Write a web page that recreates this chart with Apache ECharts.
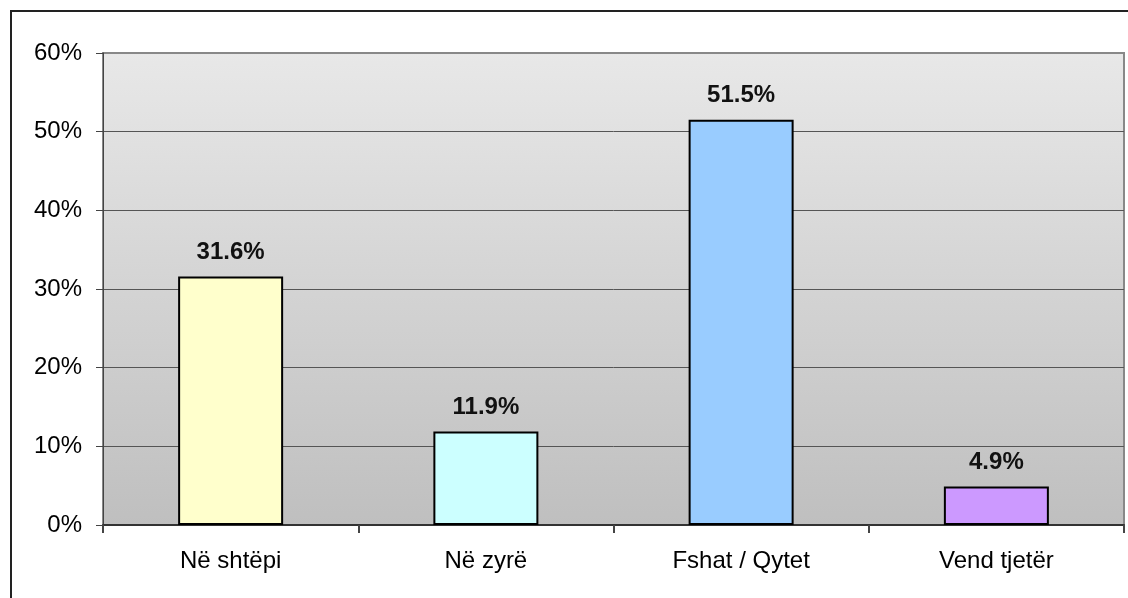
<!DOCTYPE html>
<html>
<head>
<meta charset="utf-8">
<script src="https://cdn.jsdelivr.net/npm/echarts@6/dist/echarts.min.js"></script>
<style>
  html, body { margin: 0; padding: 0; background: #fff; }
  #main { width: 1128px; height: 598px; }
</style>
</head>
<body>
<div id="main"></div>
<script>
// categories + values (percent)
const categories = ['Në shtëpi', 'Në zyrë', 'Fshat / Qytet', 'Vend tjetër']
const values = [31.6, 11.9, 51.5, 4.9]
const barColors = ['#ffffcc', '#ccffff', '#99ccff', '#cc99ff']
const yTicks = [0, 10, 20, 30, 40, 50, 60]

const font = '"Liberation Sans", Arial, sans-serif'

const myChart = echarts.init(document.querySelector('#main'))
const option = {
    animation: false,
    backgroundColor: '#fff',
    graphic: [
        {
            type: 'rect',
            shape: { x: 11, y: 11, width: 1200, height: 700 },
            style: { fill: 'none', stroke: '#222', lineWidth: 2 },
            silent: true
        }
    ],
    grid: {
        left: 103,
        right: 4,
        top: 53,
        bottom: 73,
        containLabel: false,
        show: true,
        borderColor: '#888',
        borderWidth: 2,
        backgroundColor: {
            type: 'linear',
            x: 0, y: 0, x2: 0, y2: 1,
            colorStops: [
                { offset: 0, color: '#e8e8e8' },
                { offset: 1, color: '#bfbfbf' }
            ]
        }
    },
    xAxis: {
        type: 'category',
        data: categories,
        axisLine: { lineStyle: { color: '#333', width: 2 } },
        axisTick: { show: true, length: 8, lineStyle: { color: '#444', width: 2 } },
        axisLabel: {
            color: '#000',
            fontFamily: font,
            fontSize: 24,
            margin: 24
        }
    },
    yAxis: {
        type: 'value',
        min: yTicks[0],
        max: yTicks[yTicks.length - 1],
        interval: 10,
        axisLine: { show: true, lineStyle: { color: '#444', width: 1 } },
        axisTick: { show: true, length: 7, lineStyle: { color: '#444' } },
        axisLabel: {
            color: '#000',
            fontFamily: font,
            fontSize: 24,
            margin: 21,
            formatter: '{value}%'
        },
        splitLine: {
            show: true,
            lineStyle: {
                color: ['#555', '#555', '#555', '#555', '#555', '#555', '#888'],
                width: 1
            }
        }
    },
    series: [
        {
            type: 'bar',
            barWidth: 105,
            data: values.map((v, i) => ({
                value: v,
                itemStyle: { color: barColors[i] }
            })),
            itemStyle: {
                borderColor: '#000',
                borderWidth: 2
            },
            label: {
                show: true,
                position: 'top',
                distance: 12,
                color: '#111',
                fontFamily: font,
                fontWeight: 'bold',
                fontSize: 24,
                formatter: p => p.value.toFixed(1) + '%'
            }
        }
    ]
}
myChart.setOption(option)
</script>
</body>
</html>
